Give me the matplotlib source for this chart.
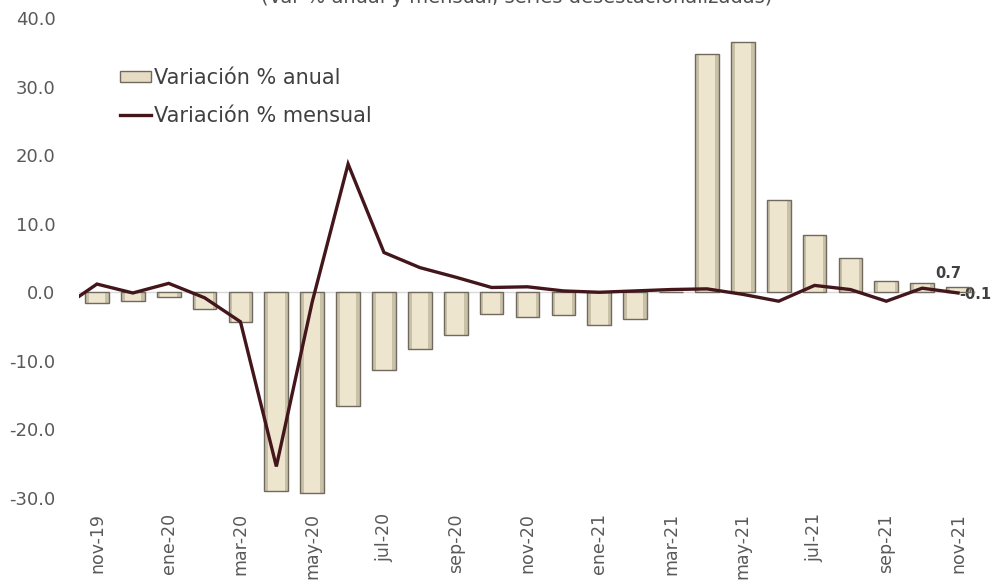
import matplotlib
matplotlib.use("Agg")
import matplotlib.pyplot as plt
from matplotlib.patches import Patch
from matplotlib.lines import Line2D
import numpy as np

# Months nov-19 .. nov-21
months = ["nov-19", "dic-19", "ene-20", "feb-20", "mar-20", "abr-20", "may-20",
          "jun-20", "jul-20", "ago-20", "sep-20", "oct-20", "nov-20", "dic-20",
          "ene-21", "feb-21", "mar-21", "abr-21", "may-21", "jun-21", "jul-21",
          "ago-21", "sep-21", "oct-21", "nov-21"]

# Annual % change (bars)
anual = [-1.6, -1.2, -0.7, -2.5, -4.4, -29.0, -29.2, -16.6, -11.4, -8.3, -6.3,
         -3.2, -3.6, -3.3, -4.8, -3.9, 0.0, 34.7, 36.5, 13.4, 8.3, 5.0, 1.7,
         1.3, 0.7]

# Monthly % change (line); first value is oct-19 (partly outside the plot)
mensual_prev = -2.4
mensual = [1.2, -0.1, 1.3, -0.8, -4.3, -25.4, -1.4, 18.7, 5.8, 3.6, 2.2, 0.7,
           0.8, 0.2, 0.0, 0.2, 0.4, 0.5, -0.3, -1.3, 1.0, 0.4, -1.3, 0.6, -0.1]

yticks = [-30, -20, -10, 0, 10, 20, 30, 40]

title = "(Var % anual y mensual, series desestacionalizadas)"

fig = plt.figure(figsize=(9.94, 5.82), dpi=100)
ax = fig.add_axes([79/994, 1-498/582, 897/994, 480/582])

x = np.arange(len(months))
# bars with bevel look
ax.bar(x, anual, width=0.66, color="#C9C0A8", edgecolor="none", zorder=2)
ax.bar(x, anual, width=0.46, color="#EEE5CE", edgecolor="none", zorder=3)
ax.bar(x, anual, width=0.66, color="none", edgecolor="#6f6a5d", linewidth=1.0, zorder=4)

xl = np.concatenate([[-1], x])
yl = [mensual_prev] + mensual
ax.plot(xl, yl, color="#42161A", linewidth=2.4, zorder=5, solid_joinstyle="miter")

ax.axhline(0, color="#d9d9d9", linewidth=1.0, zorder=1)

ax.set_xlim(-0.5, len(months) - 0.5)
ax.set_ylim(-30, 40)
ax.set_yticks(yticks)
ax.set_yticklabels([f"{v:.1f}" for v in yticks])
ax.set_xticks(x[::2])
ax.set_xticklabels(months[::2], rotation=90)
ax.tick_params(axis="y", length=0, pad=17, labelsize=13, labelcolor="#595959")
ax.tick_params(axis="x", length=0, pad=11, labelsize=12.5, labelcolor="#595959")
for s in ax.spines.values():
    s.set_visible(False)

# data labels for the last month
ax.annotate(f"{anual[-1]:.1f}", (x[-1], anual[-1]), xytext=(-7, 5),
            textcoords="offset points", ha="center", va="bottom",
            fontsize=10.5, fontweight="bold", color="#404040")
ax.annotate(f"{mensual[-1]:.1f}", (x[-1], mensual[-1]), xytext=(1, -1),
            textcoords="offset points", ha="left", va="center",
            fontsize=10.5, fontweight="bold", color="#404040", annotation_clip=False)

handles = [Patch(facecolor="#E6DCC3", edgecolor="#6f6a5d", linewidth=1.0),
           Line2D([0], [0], color="#42161A", linewidth=2.4)]
ax.legend(handles, ["Variación % anual", "Variación % mensual"],
          loc="upper left", bbox_to_anchor=(0.025, 0.935), frameon=False,
          fontsize=15, handlelength=1.5, handleheight=0.5, handletextpad=0.1,
          labelspacing=0.85, labelcolor="#404040")

fig.text(0.52, 1 - 3/582, title, ha="center", va="baseline", fontsize=14,
         color="#505050")

fig.savefig("out.png", dpi=100, facecolor="white")
